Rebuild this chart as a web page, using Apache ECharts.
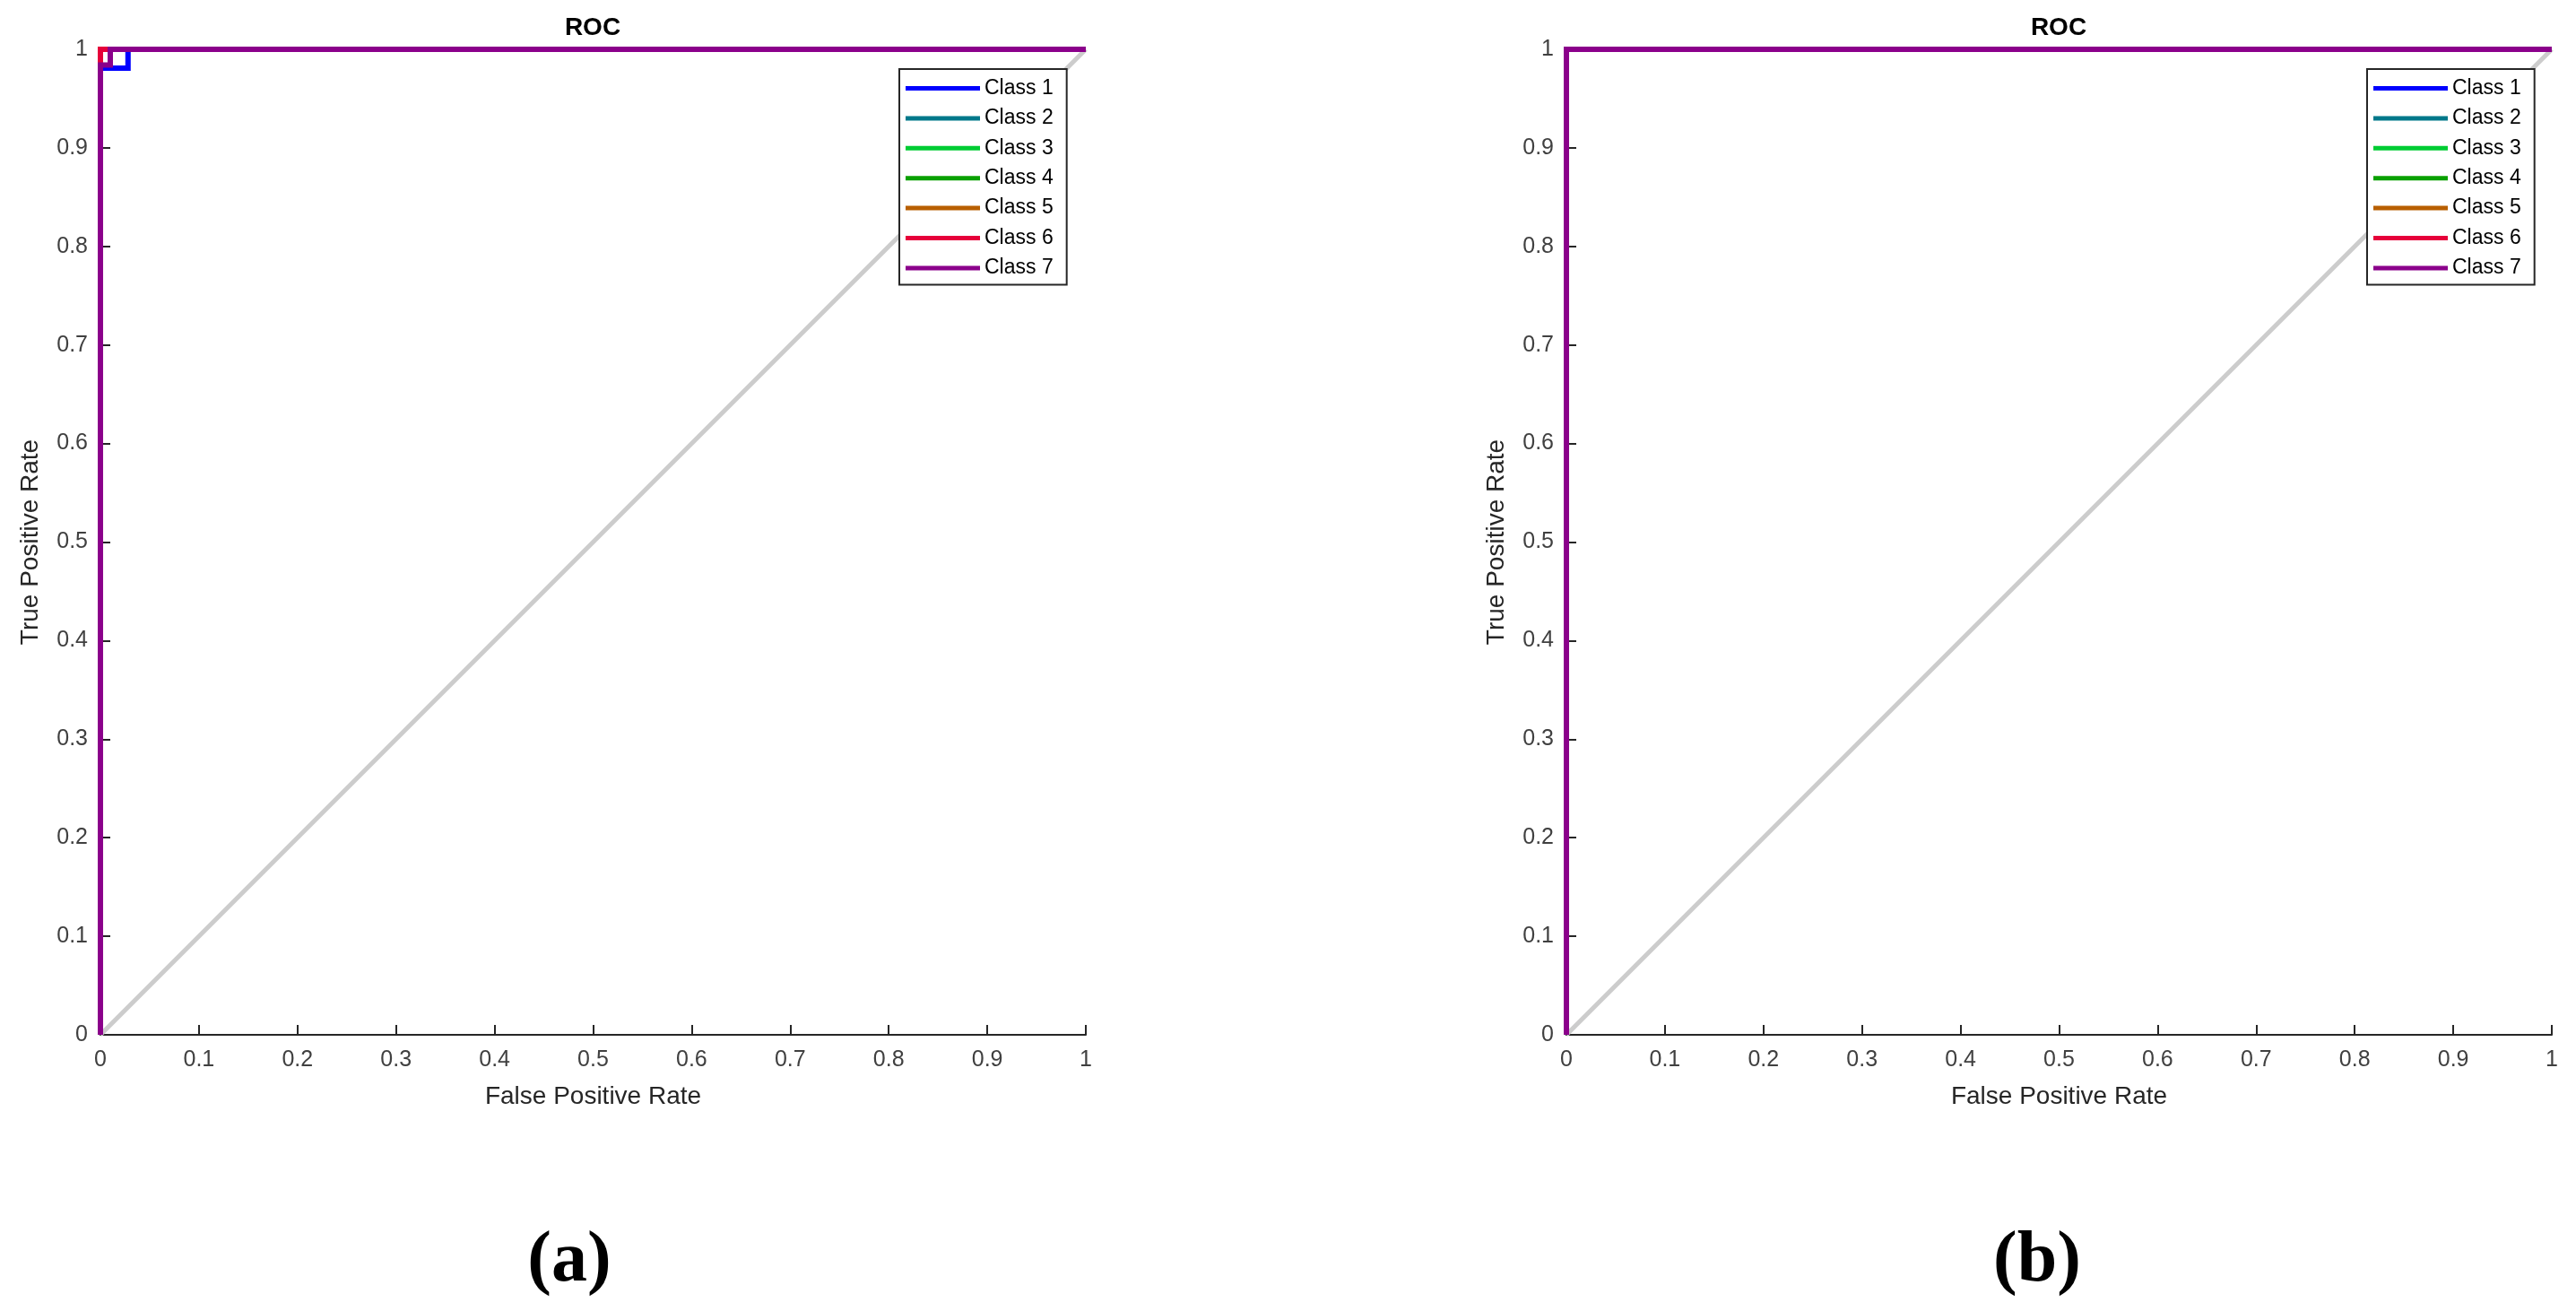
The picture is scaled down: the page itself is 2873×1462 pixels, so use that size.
<!DOCTYPE html>
<html>
<head>
<meta charset="utf-8">
<script src="https://cdn.jsdelivr.net/npm/echarts@6/dist/echarts.min.js"></script>
<style>
html,body{margin:0;padding:0;background:#fff;}
#chart{width:2873px;height:1462px;}
</style>
</head>
<body>
<div id="chart"></div>
<script>
// ---- data ----
const classNames = ['Class 1','Class 2','Class 3','Class 4','Class 5','Class 6','Class 7'];
const axisMin = 0, axisMax = 1, axisStep = 0.1;
const chanceFpr = [0, 1];
const chanceTpr = [0, 1];

// panel (a) ROC curves
const fprA1 = [0, 0, 0.028, 0.028, 1];
const tprA1 = [0, 0.981, 0.981, 1, 1];
const fprA2 = [0, 0, 1];
const tprA2 = [0, 1, 1];
const fprA3 = [0, 0, 1];
const tprA3 = [0, 1, 1];
const fprA4 = [0, 0, 1];
const tprA4 = [0, 1, 1];
const fprA5 = [0, 0, 1];
const tprA5 = [0, 1, 1];
const fprA6 = [0, 0, 1];
const tprA6 = [0, 1, 1];
const fprA7 = [0, 0, 0.01, 0.01, 1];
const tprA7 = [0, 0.984, 0.984, 1, 1];

// panel (b) ROC curves
const fprB1 = [0, 0, 1];
const tprB1 = [0, 1, 1];
const fprB2 = [0, 0, 1];
const tprB2 = [0, 1, 1];
const fprB3 = [0, 0, 1];
const tprB3 = [0, 1, 1];
const fprB4 = [0, 0, 1];
const tprB4 = [0, 1, 1];
const fprB5 = [0, 0, 1];
const tprB5 = [0, 1, 1];
const fprB6 = [0, 0, 1];
const tprB6 = [0, 1, 1];
const fprB7 = [0, 0, 1];
const tprB7 = [0, 1, 1];

// ---- styles ----
const classColors = ['#0000ff','#00788a','#00cc33','#0aa000','#b85f00','#e6003a','#8b008b'];
const panelA = [[fprA1,tprA1],[fprA2,tprA2],[fprA3,tprA3],[fprA4,tprA4],[fprA5,tprA5],[fprA6,tprA6],[fprA7,tprA7]];
const panelB = [[fprB1,tprB1],[fprB2,tprB2],[fprB3,tprB3],[fprB4,tprB4],[fprB5,tprB5],[fprB6,tprB6],[fprB7,tprB7]];

const zip = (xs, ys) => xs.map((x, i) => [x, ys[i]]);
const FONT = '"Liberation Sans", Arial, sans-serif';
const SERIF = '"Liberation Serif", "Times New Roman", serif';
const grids = [
  {left: 112, top: 55, width: 1099, height: 1099},
  {left: 1747, top: 55, width: 1099, height: 1099}
];

function xAx(i){
  return {
    type:'value', gridIndex:i, min:axisMin, max:axisMax, interval:axisStep,
    name:'False Positive Rate', nameLocation:'middle', nameGap:55,
    nameTextStyle:{fontSize:28, color:'#262626', fontFamily:FONT},
    axisLine:{show:true, lineStyle:{color:'#262626', width:2}},
    axisTick:{show:true, inside:true, length:11, lineStyle:{color:'#262626', width:2}},
    axisLabel:{fontSize:25, color:'#404040', fontFamily:FONT, margin:16},
    splitLine:{show:false}
  };
}
function yAx(i){
  return {
    type:'value', gridIndex:i, min:axisMin, max:axisMax, interval:axisStep,
    name:'True Positive Rate', nameLocation:'middle', nameGap:64,
    nameTextStyle:{fontSize:28, color:'#262626', fontFamily:FONT},
    axisLine:{show:true, lineStyle:{color:'#262626', width:2}},
    axisTick:{show:true, inside:true, length:11, lineStyle:{color:'#262626', width:2}},
    axisLabel:{fontSize:25, color:'#404040', fontFamily:FONT, margin:14},
    splitLine:{show:false}
  };
}

const series = [];
[panelA, panelB].forEach((panel, gi) => {
  series.push({
    type:'line', xAxisIndex:gi, yAxisIndex:gi, data:zip(chanceFpr, chanceTpr),
    symbol:'none', clip:false, silent:true, z:1,
    lineStyle:{color:'#cccccc', width:5}
  });
  panel.forEach((c, k) => {
    series.push({
      type:'line', name:classNames[k], xAxisIndex:gi, yAxisIndex:gi,
      data:zip(c[0], c[1]), symbol:'none', clip:false, z:2+k,
      color:classColors[k],
      lineStyle:{color:classColors[k], width:6, join:'miter'}
    });
  });
});

function legendAt(left){
  return {
    orient:'vertical', left:left, top:77, data:classNames,
    icon:'rect', itemWidth:83, itemHeight:5, itemGap:10.4, itemTextGap:5,
    textStyle:{fontSize:23, color:'#000', fontFamily:FONT},
    borderColor:'#262626', borderWidth:2, backgroundColor:'#fff',
    padding:[10,15,7,7], selectedMode:false, z:20
  };
}

const chart = echarts.init(document.getElementById('chart'), null, {renderer:'canvas'});
chart.setOption({
  animation:false,
  backgroundColor:'#fff',
  grid: grids,
  xAxis:[xAx(0), xAx(1)],
  yAxis:[yAx(0), yAx(1)],
  legend:[legendAt(1003), legendAt(2640)],
  series: series,
  graphic:[
    {type:'text', x:661, y:17, z:30, style:{text:'ROC', align:'center', verticalAlign:'top', fontSize:28, fontWeight:'bold', fontFamily:FONT, fill:'#000'}},
    {type:'text', x:2296, y:17, z:30, style:{text:'ROC', align:'center', verticalAlign:'top', fontSize:28, fontWeight:'bold', fontFamily:FONT, fill:'#000'}},
    {type:'text', x:635, y:1367, z:30, style:{text:'(a)', align:'center', verticalAlign:'top', fontSize:80, fontWeight:'bold', fontFamily:SERIF, fill:'#000'}},
    {type:'text', x:2272, y:1367, z:30, style:{text:'(b)', align:'center', verticalAlign:'top', fontSize:80, fontWeight:'bold', fontFamily:SERIF, fill:'#000'}}
  ]
});
</script>
</body>
</html>
